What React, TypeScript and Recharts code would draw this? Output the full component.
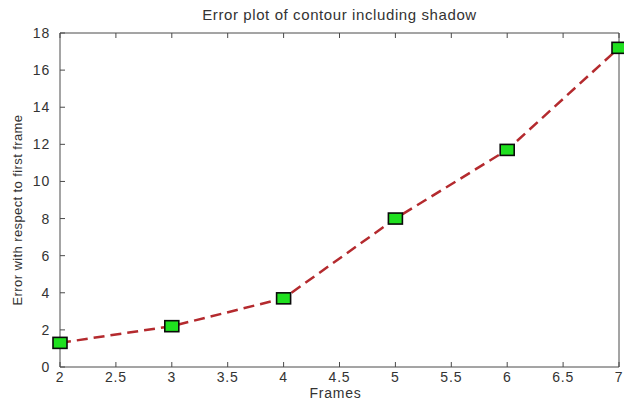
import React from 'react'
import { LineChart, Line, XAxis, YAxis, Label } from 'recharts'

const frames = [2, 3, 4, 5, 6, 7]
const errors = [1.3, 2.2, 3.7, 8.0, 11.7, 17.2]
const xTicks = [2, 2.5, 3, 3.5, 4, 4.5, 5, 5.5, 6, 6.5, 7]
const yTicks = [0, 2, 4, 6, 8, 10, 12, 14, 16, 18]

const data = frames.map((frame, i) => ({ frame, error: errors[i] }))

const FONT = '"Liberation Sans", Arial, Helvetica, sans-serif'
const AXIS_COLOR = '#4a4a4a'
const tickStyle = { fontSize: 14, fill: '#333', fontFamily: FONT, letterSpacing: 0.8 }

const SquareDot = (props: any) => {
  const { cx, cy, index } = props
  return (
    <rect
      key={`dot-${index}`}
      x={cx - 7}
      y={cy - 5.5}
      width={14}
      height={11}
      fill="#1fe01f"
      stroke="#0a0a0a"
      strokeWidth={1.6}
    />
  )
}

const blank = () => ''

export default function App() {
  return (
    <div style={{ position: 'fixed', left: 0, top: 0, width: 624, height: 401, background: '#fff' }}>
      <div
        style={{
          position: 'absolute',
          left: 60,
          width: 559,
          top: 6,
          textAlign: 'center',
          fontFamily: FONT,
          fontSize: 15,
          letterSpacing: 0.6,
          color: '#333'
        }}
      >
        Error plot of contour including shadow
      </div>
      <div
        style={{
          position: 'absolute',
          left: 17,
          top: 210,
          transform: 'translate(-50%, -50%) rotate(-90deg)',
          whiteSpace: 'nowrap',
          fontFamily: FONT,
          fontSize: 13,
          letterSpacing: 0.4,
          color: '#333'
        }}
      >
        Error with respect to first frame
      </div>
      <LineChart
        width={624}
        height={401}
        data={data}
        margin={{ top: 28, right: 0, bottom: 0, left: 0 }}
        style={{ position: 'absolute', left: 0, top: 0 }}
      >
        <XAxis
          xAxisId="bottom"
          dataKey="frame"
          type="number"
          domain={[2, 7]}
          ticks={xTicks}
          height={34}
          tickSize={-5}
          tickMargin={10}
          stroke={AXIS_COLOR}
          tick={tickStyle}
          interval={0}
        >
          <Label
            value="Frames"
            position="insideBottom"
            offset={3}
            dx={-4}
            style={{ fontSize: 14, fill: '#333', fontFamily: FONT, letterSpacing: 0.8 }}
          />
        </XAxis>
        <XAxis
          xAxisId="top"
          orientation="top"
          dataKey="frame"
          type="number"
          domain={[2, 7]}
          ticks={xTicks}
          height={5}
          tickSize={-5}
          stroke={AXIS_COLOR}
          tickFormatter={blank}
          interval={0}
        />
        <YAxis
          yAxisId="left"
          type="number"
          domain={[0, 18]}
          ticks={yTicks}
          width={60}
          tickSize={-5}
          tickMargin={15}
          stroke={AXIS_COLOR}
          tick={tickStyle}
          interval={0}
        />
        <YAxis
          yAxisId="right"
          orientation="right"
          type="number"
          domain={[0, 18]}
          ticks={yTicks}
          width={5}
          tickSize={-5}
          stroke={AXIS_COLOR}
          tickFormatter={blank}
          interval={0}
        />
        <Line
          xAxisId="bottom"
          yAxisId="left"
          type="linear"
          dataKey="error"
          stroke="#b42a2e"
          strokeWidth={2.5}
          strokeDasharray="11 6"
          dot={SquareDot}
          activeDot={false}
          isAnimationActive={false}
        />
      </LineChart>
    </div>
  )
}
